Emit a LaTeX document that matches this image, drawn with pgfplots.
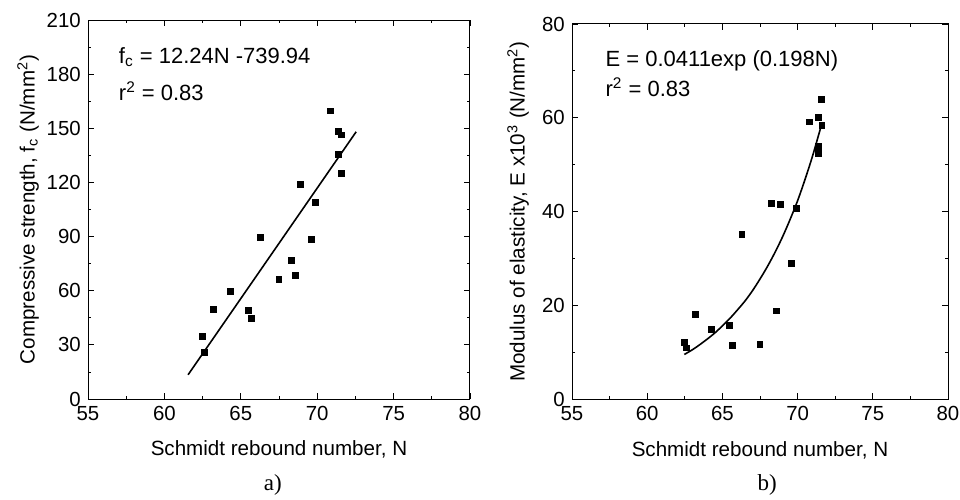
\documentclass[border=0pt]{standalone}
\usepackage{pgfplots}
\pgfplotsset{compat=1.18}
\usepackage{fontspec}
\setmainfont{Liberation Sans}
\newfontfamily\serifcap{Liberation Serif}
\begin{document}
\fontsize{10.3}{12}\selectfont
\begin{tikzpicture}
\useasboundingbox (0pt,0pt) rectangle (480pt,249.5pt);
\pgfplotsset{
  every axis/.append style={
    scale only axis,
    anchor=south west,
    xmin=55, xmax=80,
    xtick={55,60,...,80},
    minor x tick num=1,
    minor y tick num=1,
    tick align=inside,
    major tick length=3pt,
    minor tick length=1.6pt,
    tick style={black, line width=0.4pt},
    axis line style={line width=0.5pt},
    /pgf/number format/assume math mode=true,
    tick label style={font=\fontsize{10.2}{12}\selectfont},
    label style={font=\fontsize{10.3}{12}\selectfont},
    clip=false,
  },
}
% ---- a) ----
\begin{axis}[
  at={(44pt,50pt)},
  width=191pt, height=189.5pt,
  ymin=0, ymax=210,
  ytick={0,30,...,210},
  xlabel={Schmidt rebound number, N},
  ylabel={Compressive strength, f\textsubscript{c} (N/mm\textsuperscript{2})},
  xlabel style={at={(axis description cs:0.5,-0.132)}, anchor=center},
  ylabel style={at={(axis description cs:-0.157,0.5)}, anchor=center},
]
\addplot[only marks, mark=square*, mark size=1.45pt, black] coordinates {
(70.84,159.6) (71.38,148.1) (71.60,146.3) (71.38,135.6) (71.60,125.0)
(68.92,118.9) (69.90,109.0) (66.28,89.4) (69.61,88.3) (68.30,76.6)
(68.59,68.5) (67.50,66.3) (64.31,59.8) (63.20,49.7) (65.52,49.1)
(65.69,44.5) (62.51,34.7) (62.61,25.9)
};
\addplot[black, line width=0.8pt] coordinates {(61.55,13.43) (72.55,148.07)};
\node[anchor=west, font=\fontsize{11}{13}\selectfont] at (rel axis cs:0.062,0.902) {f\textsubscript{c} = 12.24N -739.94};
\node[anchor=west, font=\fontsize{11}{13}\selectfont] at (rel axis cs:0.062,0.812) {r\textsuperscript{2} = 0.83};
\node[font=\serifcap\fontsize{11.5}{13}\selectfont] at (axis description cs:0.484,-0.227) {a)};
\end{axis}
% ---- b) ----
\begin{axis}[
  at={(286pt,50pt)},
  width=188pt, height=187.5pt,
  ymin=0, ymax=80,
  ytick={0,20,...,80},
  xlabel={Schmidt rebound number, N},
  ylabel={Modulus of elasticity, E x10\textsuperscript{3} (N/mm\textsuperscript{2})},
  xlabel style={at={(axis description cs:0.5,-0.136)}, anchor=center},
  ylabel style={at={(axis description cs:-0.1436,0.5)}, anchor=center},
]
\addplot[only marks, mark=square*, mark size=1.45pt, black] coordinates {
(71.60,64.0) (71.40,60.1) (70.80,59.1) (71.62,58.3) (71.40,53.9)
(71.40,52.4) (68.28,41.7) (68.88,41.5) (69.90,40.6) (66.29,35.1)
(69.59,28.9) (63.20,18.1) (68.60,18.8) (64.26,14.8) (65.48,15.7)
(62.47,12.1) (62.60,10.9) (65.68,11.4) (67.49,11.6)
};
\addplot[black, line width=0.8pt, smooth] coordinates {
(62.47,9.50) (63.0,10.5) (63.5,11.6) (64.0,12.8) (64.5,14.1)
(65.0,15.6) (65.5,17.2) (66.0,19.0) (66.5,20.9) (67.0,23.1)
(67.5,25.6) (68.0,28.3) (68.5,31.3) (69.0,34.6) (69.5,38.3)
(70.0,42.3) (70.5,46.9) (71.0,51.9) (71.58,58.4)
};
\node[anchor=west, font=\fontsize{11}{13}\selectfont] at (rel axis cs:0.070,0.901) {E = 0.0411exp (0.198N)};
\node[anchor=west, font=\fontsize{11}{13}\selectfont] at (rel axis cs:0.070,0.832) {r\textsuperscript{2} = 0.83};
\node[font=\serifcap\fontsize{11.5}{13}\selectfont] at (axis description cs:0.519,-0.229) {b)};
\end{axis}
\end{tikzpicture}
\end{document}
